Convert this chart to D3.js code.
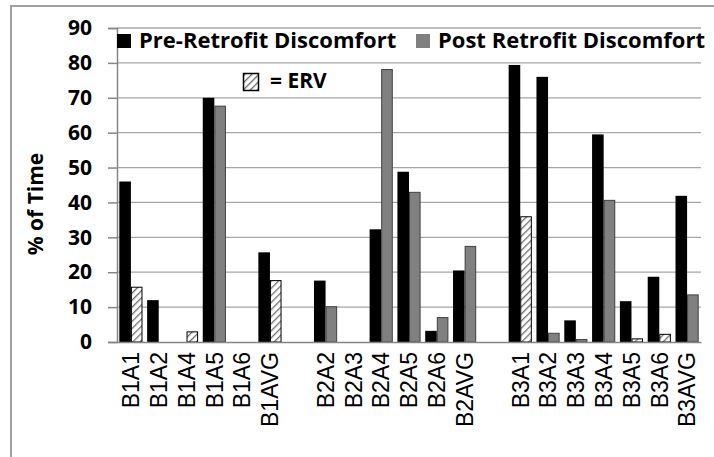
<!DOCTYPE html>
<html>
<head>
<meta charset="utf-8">
<script src="https://cdn.jsdelivr.net/npm/d3@7"></script>
<style>
  body { margin: 0; background: #fff; }
  svg { display: block; }
</style>
</head>
<body>
<div id="chart"></div>
<script>
// chart data ("" = empty slot between buildings)
var categories = ["B1A1", "B1A2", "B1A4", "B1A5", "B1A6", "B1AVG", "",
                  "B2A2", "B2A3", "B2A4", "B2A5", "B2A6", "B2AVG", "",
                  "B3A1", "B3A2", "B3A3", "B3A4", "B3A5", "B3A6", "B3AVG"];
var preRetrofit  = [46, 12, 0, 70, 0, 25.7, null,
                    17.6, 0, 32.3, 48.8, 3.2, 20.5, null,
                    79.4, 76, 6.2, 59.5, 11.7, 18.7, 41.9];
var postRetrofit = [15.7, 0, 2.9, 67.6, 0, 17.6, null,
                    10.1, 0, 78.1, 42.9, 7, 27.4, null,
                    35.9, 2.5, 0.7, 40.6, 0.9, 2.2, 13.5];
// 1 = post retrofit bar belongs to an ERV unit (hatched)
var ervFlags = [1, 0, 1, 0, 0, 1, 0,
                0, 0, 0, 0, 0, 0, 0,
                1, 0, 0, 0, 1, 1, 0];
var seriesNames = ["Pre-Retrofit Discomfort", "Post Retrofit Discomfort"];
var yTicks = [0, 10, 20, 30, 40, 50, 60, 70, 80, 90];

var W = 714, H = 457;
var plotLeft = 117, plotRight = 701, plotTop = 28, plotBottom = 342;
var boldFont = "'Open Sans', sans-serif";
var labelFont = "'Liberation Sans', Arial, sans-serif";

var svg = d3.select("#chart").append("svg")
    .attr("width", W)
    .attr("height", H);

// hatch pattern for ERV bars
var defs = svg.append("defs");
var pat = defs.append("pattern")
    .attr("id", "hatch")
    .attr("patternUnits", "userSpaceOnUse")
    .attr("width", 5)
    .attr("height", 5)
    .attr("patternTransform", "rotate(45)");
pat.append("rect").attr("width", 5).attr("height", 5).attr("fill", "#fff");
pat.append("line")
    .attr("x1", 0).attr("y1", 0).attr("x2", 0).attr("y2", 5)
    .attr("stroke", "#6e6e6e")
    .attr("stroke-width", 2.6);

// outer frame
svg.append("rect")
    .attr("x", 11).attr("y", 6)
    .attr("width", 760).attr("height", 500)
    .attr("fill", "#fff")
    .attr("stroke", "#a0a0a0")
    .attr("stroke-width", 2);

// scales
var x = d3.scaleBand()
    .domain(d3.range(categories.length))
    .range([plotLeft, plotRight]);

var xSub = d3.scaleBand()
    .domain(["pre", "post"])
    .range([0, x.bandwidth()])
    .paddingOuter(0.2);

var y = d3.scaleLinear()
    .domain([0, 90])
    .range([plotBottom, plotTop]);

// gridlines
svg.append("g")
    .selectAll("line")
    .data(yTicks.slice(1))
    .enter().append("line")
    .attr("x1", plotLeft).attr("x2", plotRight)
    .attr("y1", function(d) { return y(d); })
    .attr("y2", function(d) { return y(d); })
    .attr("stroke", "#a6a6a6")
    .attr("stroke-width", 1.3);

// bars
var rows = categories.map(function(c, i) {
    return { i: i, pre: preRetrofit[i], post: postRetrofit[i], erv: ervFlags[i] };
});

svg.append("g")
    .selectAll("rect")
    .data(rows.filter(function(d) { return d.pre > 0; }))
    .enter().append("rect")
    .attr("x", function(d) { return x(d.i) + xSub("pre"); })
    .attr("y", function(d) { return y(d.pre); })
    .attr("width", xSub.bandwidth())
    .attr("height", function(d) { return y(0) - y(d.pre); })
    .attr("fill", "#000");

svg.append("g")
    .selectAll("rect")
    .data(rows.filter(function(d) { return d.post > 0; }))
    .enter().append("rect")
    .attr("x", function(d) { return x(d.i) + xSub("post") + 0.5; })
    .attr("y", function(d) { return y(d.post); })
    .attr("width", xSub.bandwidth() - 1)
    .attr("height", function(d) { return y(0) - y(d.post); })
    .attr("fill", function(d) { return d.erv ? "url(#hatch)" : "#808080"; })
    .attr("stroke", function(d) { return d.erv ? "#000" : "#404040"; })
    .attr("stroke-width", 1);

// y axis
var yAxis = svg.append("g")
    .attr("transform", "translate(" + plotLeft + ",0)")
    .call(d3.axisLeft(y).tickValues(yTicks).tickSize(9).tickPadding(16));
yAxis.select(".domain").attr("stroke", "#868686").attr("stroke-width", 1.5);
yAxis.selectAll(".tick line").attr("stroke", "#868686").attr("stroke-width", 1.5);
yAxis.selectAll(".tick text")
    .attr("fill", "#000")
    .style("font-family", boldFont)
    .style("font-weight", "bold")
    .style("font-size", "21px");

// x axis
var xAxis = svg.append("g")
    .attr("transform", "translate(0," + plotBottom + ")")
    .call(d3.axisBottom(x).tickSize(0).tickFormat(function(i) { return categories[i]; }));
xAxis.select(".domain").attr("stroke", "#868686").attr("stroke-width", 1.5);
xAxis.selectAll(".tick text")
    .attr("transform", "rotate(-90)")
    .attr("x", -10)
    .attr("y", 0)
    .attr("dy", "0.36em")
    .attr("fill", "#000")
    .style("text-anchor", "end")
    .style("font-family", labelFont)
    .style("font-size", "23px");

// y axis title
svg.append("text")
    .attr("transform", "translate(43,204) rotate(-90)")
    .style("text-anchor", "middle")
    .style("font-family", boldFont)
    .style("font-weight", "bold")
    .style("font-size", "21px")
    .text("% of Time");

// legend
var legendX = [117, 416];
var legendColors = ["#000", "#808080"];
var legend = svg.append("g");
seriesNames.forEach(function(name, k) {
    legend.append("rect")
        .attr("x", legendX[k]).attr("y", 34)
        .attr("width", 14).attr("height", 14)
        .attr("fill", legendColors[k]);
    legend.append("text")
        .attr("x", legendX[k] + 22)
        .attr("y", 48)
        .style("font-family", boldFont)
        .style("font-weight", "bold")
        .style("font-size", "22px")
        .text(name);
});

// ERV key
svg.append("rect")
    .attr("x", 243.5).attr("y", 73.5)
    .attr("width", 15).attr("height", 17)
    .attr("fill", "url(#hatch)")
    .attr("stroke", "#000")
    .attr("stroke-width", 1.5);
svg.append("text")
    .attr("x", 270)
    .attr("y", 88)
    .style("font-family", boldFont)
    .style("font-weight", "bold")
    .style("font-size", "21px")
    .text("= ERV");
</script>
</body>
</html>
